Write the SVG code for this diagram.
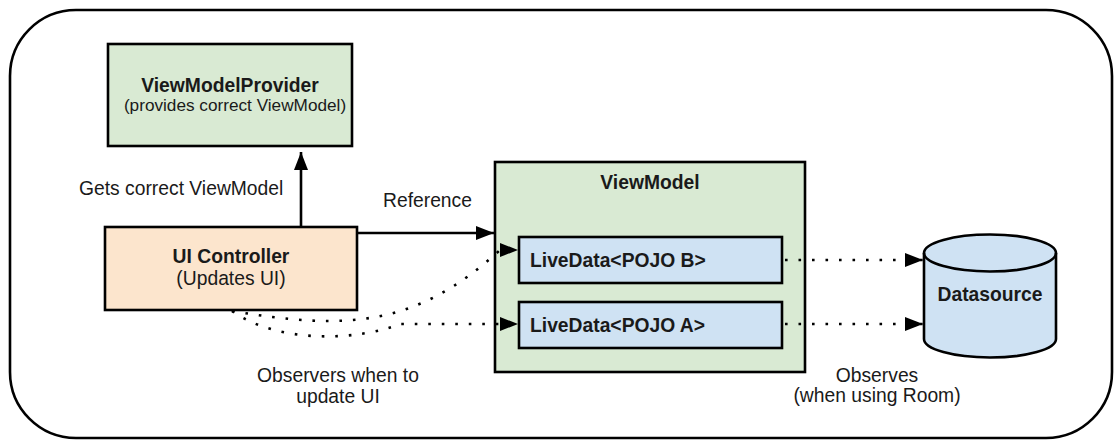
<svg xmlns="http://www.w3.org/2000/svg" width="1115" height="441" viewBox="0 0 1115 441">
  <style>
    .box { stroke: #000; stroke-width: 2.6; }
    .green { fill: #d9ead3; }
    .peach { fill: #fce5cd; }
    .blue { fill: #cfe2f3; }
    text { font-family: "Liberation Sans", Arial, sans-serif; font-size: 19.3px; fill: #1a1a1a; }
    .b { font-weight: bold; }
    .mid { text-anchor: middle; }
    .solid { fill: none; stroke: #000; stroke-width: 2.6; }
    .dot { fill: none; stroke: #000; stroke-width: 2.6; stroke-dasharray: 2.6 10.9; }
  </style>
  <defs>
    <marker id="head" viewBox="0 0 18 14" refX="18" refY="7" markerWidth="18" markerHeight="14" markerUnits="userSpaceOnUse" orient="auto">
      <path d="M0,0 L18,7 L0,14 Z" fill="#000"/>
    </marker>
    <marker id="headR" viewBox="0 0 18 14" refX="0" refY="7" markerWidth="18" markerHeight="14" markerUnits="userSpaceOnUse" orient="0">
      <path d="M0,0 L18,7 L0,14 Z" fill="#000"/>
    </marker>
  </defs>

  <!-- frame -->
  <rect x="10" y="10" width="1102" height="428" rx="66" ry="66" fill="#fff" stroke="#000" stroke-width="2.6"/>

  <g id="labels">
    <text x="79" y="195">Gets correct ViewModel</text>
    <text x="383" y="207">Reference</text>
    <text class="mid" x="338" y="382">Observers when to</text>
    <text class="mid" x="338" y="403">update UI</text>
    <text class="mid" x="877" y="382">Observes</text>
    <text class="mid" x="877" y="402">(when using Room)</text>
  </g>

  <g id="viewmodel-provider">
    <rect class="box green" x="108" y="44" width="244" height="102"/>
    <text class="b mid" x="230" y="92">ViewModelProvider</text>
    <text class="mid" x="235" y="111" style="font-size:17.2px">(provides correct ViewModel)</text>
  </g>

  <g id="ui-controller">
    <rect class="box peach" x="105" y="227" width="252" height="83"/>
    <text class="b mid" x="231" y="263">UI Controller</text>
    <text class="mid" x="231" y="285">(Updates UI)</text>
  </g>

  <g id="viewmodel">
    <rect class="box green" x="495" y="162" width="310" height="210"/>
    <text class="b mid" x="650" y="189">ViewModel</text>
  </g>

  <g id="livedata-b">
    <rect class="box blue" x="519" y="237" width="263" height="46"/>
    <text class="b" x="530" y="267">LiveData&lt;POJO B&gt;</text>
  </g>

  <g id="livedata-a">
    <rect class="box blue" x="519" y="302" width="263" height="46"/>
    <text class="b" x="530" y="332">LiveData&lt;POJO A&gt;</text>
  </g>

  <g id="datasource">
    <path class="box blue" d="M924 253 L924 339 A66 18.5 0 0 0 1056 339 L1056 253 A66 18.5 0 0 0 924 253 Z"/>
    <path d="M924 253 A66 18.5 0 0 0 1056 253" fill="none" stroke="#000" stroke-width="2.6"/>
    <text class="b mid" x="990" y="301">Datasource</text>
  </g>

  <g id="connectors">
    <!-- controller asks the provider -->
    <path class="solid" d="M301 227 L301 152" marker-end="url(#head)"/>
    <!-- controller holds a reference to the ViewModel -->
    <path class="solid" d="M357 233 L494 233" marker-end="url(#head)"/>
    <!-- observers on the LiveData fields -->
    <path class="dot" d="M232 311 C 345 330, 415 328, 500 250" marker-end="url(#headR)"/>
    <path class="dot" d="M232 311 C 280 345, 360 340, 400 324 L 500 324" marker-end="url(#headR)"/>
    <!-- LiveData observes the datasource -->
    <path class="dot" d="M785 260 L 923 260" marker-end="url(#head)"/>
    <path class="dot" d="M785 324 L 923 324" marker-end="url(#head)"/>
  </g>
</svg>
